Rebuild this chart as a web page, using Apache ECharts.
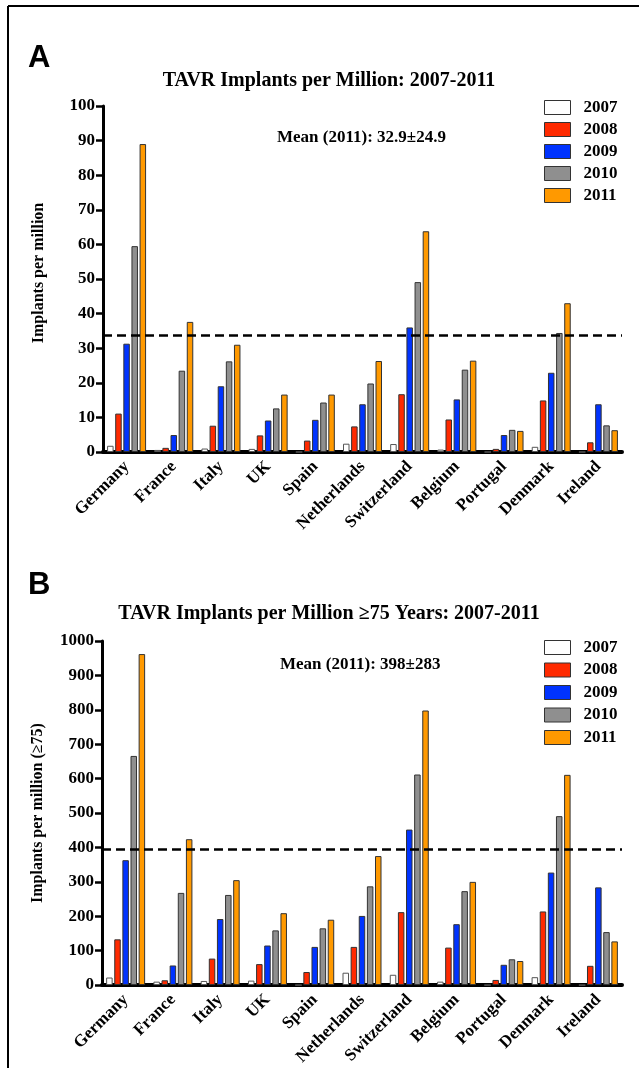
<!DOCTYPE html>
<html>
<head>
<meta charset="utf-8">
<script src="https://cdn.jsdelivr.net/npm/echarts@6/dist/echarts.min.js"></script>
<style>html,body{margin:0;padding:0;background:#fff;}#c{width:639px;height:1068px;}</style>
</head>
<body>
<div id="c"></div>
<script>
const countries = ['Germany','France','Italy','UK','Spain','Netherlands','Switzerland','Belgium','Portugal','Denmark','Ireland'];
const years = ['2007','2008','2009','2010','2011'];
const yearColors = ['#ffffff','#ff2a00','#0033ff','#8f8f8f','#ff9900'];

// Panel A: implants per million
const a2007 = [1.8, 0.6, 1.0, 0.9, 0, 2.4, 2.3, 0.7, 0, 1.5, 0];
const a2008 = [11.1, 1.2, 7.6, 4.8, 3.3, 7.4, 16.7, 9.4, 0.9, 14.9, 2.8];
const a2009 = [31.3, 4.9, 19.0, 9.1, 9.3, 13.8, 36.0, 15.2, 4.9, 22.9, 13.8];
const a2010 = [59.5, 23.5, 26.2, 12.6, 14.3, 19.8, 49.1, 23.8, 6.4, 34.4, 7.7];
const a2011 = [89.0, 37.6, 31.0, 16.6, 16.6, 26.3, 63.8, 26.4, 6.1, 43.0, 6.3];
const aMeanLine = 33.7;

// Panel B: implants per million aged >=75
const b2007 = [22, 10, 12, 13, 0, 36, 30, 10, 0, 23, 0];
const b2008 = [133, 14, 77, 61, 38, 111, 212, 109, 15, 214, 56];
const b2009 = [363, 57, 192, 115, 111, 201, 452, 177, 59, 327, 284];
const b2010 = [666, 268, 262, 159, 165, 287, 612, 273, 75, 491, 154];
const b2011 = [962, 424, 305, 209, 190, 375, 798, 300, 70, 611, 127];
const bMeanLine = 394;

const aTicks = [0,10,20,30,40,50,60,70,80,90,100];
const bTicks = [0,100,200,300,400,500,600,700,800,900,1000];

const SERIF = '"Liberation Serif", "Times New Roman", serif';
const chart = echarts.init(document.getElementById('c'));

function yAxis(gi, ticks, name, namePad) {
  return {
    type: 'value', gridIndex: gi, min: ticks[0], max: ticks[ticks.length-1],
    interval: ticks[1]-ticks[0], splitLine: {show:false},
    axisLine: {show:true, lineStyle:{color:'#000', width:3}},
    axisTick: {show:true, length:7, lineStyle:{color:'#000', width:2.5}},
    axisLabel: {margin:8, color:'#000', fontFamily:SERIF, fontWeight:'bold', fontSize:17,
                formatter: v => String(v)},
    name: name, nameLocation:'middle', nameRotate:90, nameGap:56,
    nameTextStyle: {color:'#000', fontFamily:SERIF, fontWeight:'bold', fontSize:16, padding:namePad}
  };
}
function xAxis(gi) {
  return {
    type:'category', gridIndex:gi, data: countries,
    axisLine:{show:true, lineStyle:{color:'#000', width:4}},
    axisTick:{show:false},
    axisLabel:{rotate:45, margin:12, interval:0, color:'#000', fontFamily:SERIF, fontWeight:'bold', fontSize:17}
  };
}
const aData = [a2007,a2008,a2009,a2010,a2011];
const bData = [b2007,b2008,b2009,b2010,b2011];
const series = [];
[aData, bData].forEach((set, gi) => {
  set.forEach((arr, i) => {
    const s = {
      type:'bar', name: years[i], xAxisIndex: gi, yAxisIndex: gi, data: arr,
      barWidth: 6.5, barGap: '25%',
      itemStyle: {color: yearColors[i], borderColor: i===0 ? '#555' : '#333', borderWidth: 1},
      emphasis: {disabled:true}
    };
    if (i === 4) {
      s.markLine = {
        silent:true, symbol:['none','none'], label:{show:false},
        lineStyle:{color:'#000', width:2.5, type:[9,5]},
        data:[{yAxis: gi===0 ? aMeanLine : bMeanLine}]
      };
    }
    series.push(s);
  });
});

function legend(top, gap) {
  return {
    orient:'vertical', left:544, top: top, padding:0, itemWidth:26, itemHeight:14, itemGap:gap,
    icon:'rect', selectedMode:false,
    data: years.map((y,i)=>({name:y, itemStyle:{color:yearColors[i], borderColor:'#333', borderWidth:1}})),
    textStyle:{color:'#000', fontFamily:SERIF, fontWeight:'bold', fontSize:17, padding:[0,0,0,8]}
  };
}

chart.setOption({
  animation:false,
  title: [
    {text:'TAVR Implants per Million: 2007-2011', left:329, top:71, padding:0, textAlign:'center',
     textStyle:{color:'#000', fontFamily:SERIF, fontWeight:'bold', fontSize:20}},
    {text:'TAVR Implants per Million ≥75 Years: 2007-2011', left:329, top:604, padding:0, textAlign:'center',
     textStyle:{color:'#000', fontFamily:SERIF, fontWeight:'bold', fontSize:20}}
  ],
  legend: [legend(99, 5), legend(639, 5.5)],
  grid: [
    {left:103, right:17, top:106, bottom:616},
    {left:102, right:17, top:641, bottom:80}
  ],
  xAxis: [xAxis(0), xAxis(1)],
  yAxis: [yAxis(0, aTicks, 'Implants per million', [0,0,0,12]), yAxis(1, bTicks, 'Implants per million (≥75)', 0)],
  series: series,
  graphic: [
    {type:'line', shape:{x1:8, y1:6, x2:639, y2:6}, style:{stroke:'#000', lineWidth:2}},
    {type:'line', shape:{x1:8, y1:6, x2:8, y2:1068}, style:{stroke:'#000', lineWidth:2}},
    {type:'text', left:28, top:43, style:{text:'A', font:'bold 31px "Liberation Sans", Arial, sans-serif', fill:'#000'}},
    {type:'text', left:28, top:570, style:{text:'B', font:'bold 31px "Liberation Sans", Arial, sans-serif', fill:'#000'}},
    {type:'text', left:277, top:129, style:{text:'Mean (2011): 32.9±24.9', font:'bold 17px ' + SERIF, fill:'#000'}},
    {type:'text', left:280, top:656, style:{text:'Mean (2011): 398±283', font:'bold 17px ' + SERIF, fill:'#000'}}
  ]
});
</script>
</body>
</html>
